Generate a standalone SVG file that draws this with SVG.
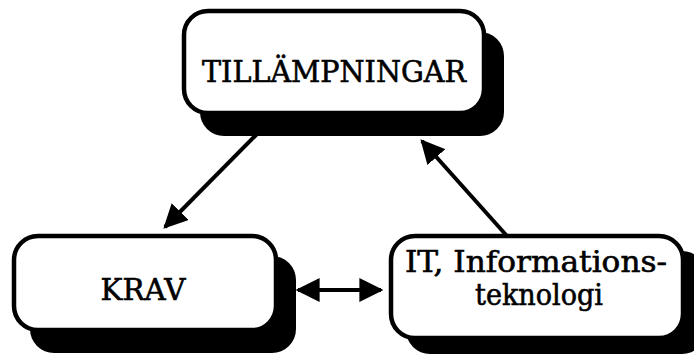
<svg xmlns="http://www.w3.org/2000/svg" width="694" height="354" viewBox="0 0 694 354">
<style>
.shadow{fill:#000}
.box{fill:#fff;stroke:#000;stroke-width:4.5}
.lbl{font-family:"DejaVu Serif","Liberation Serif",serif;font-size:29px;fill:#000;stroke:#000;stroke-width:0.6;text-anchor:middle}
.conn{stroke:#000;stroke-width:4;fill:none}
</style>
<defs>
<marker id="ah" viewBox="0 0 10 10" refX="9" refY="5" markerWidth="6" markerHeight="6" markerUnits="strokeWidth" orient="auto-start-reverse">
<path d="M0,0 L10,5 L0,10 z" fill="#000"/>
</marker>
</defs>
<rect width="694" height="354" fill="#fff"/>
<g id="connectors">
<line class="conn" x1="257" y1="134" x2="165" y2="227" marker-end="url(#ah)"/>
<line class="conn" x1="507" y1="236" x2="422" y2="141" marker-end="url(#ah)"/>
<line class="conn" x1="298" y1="290" x2="381" y2="290" marker-start="url(#ah)" marker-end="url(#ah)"/>
</g>
<g id="tillampningar">
<rect class="shadow" x="200" y="32" width="304" height="104" rx="24"/>
<rect class="box" x="184" y="11" width="300" height="102" rx="24"/>
<text class="lbl" x="334" y="82" textLength="264" lengthAdjust="spacingAndGlyphs">TILLÄMPNINGAR</text>
</g>
<g id="krav">
<rect class="shadow" x="30" y="256" width="266" height="97" rx="24"/>
<rect class="box" x="14" y="236" width="262" height="94" rx="24"/>
<text class="lbl" x="143" y="300" textLength="85" lengthAdjust="spacingAndGlyphs">KRAV</text>
</g>
<g id="it">
<rect class="shadow" x="406" y="251" width="300" height="103" rx="24"/>
<rect class="box" x="391" y="236" width="292" height="102" rx="24"/>
<text class="lbl" x="536" y="272" textLength="262" lengthAdjust="spacingAndGlyphs">IT, Informations-</text>
<text class="lbl" x="539" y="305" textLength="128" lengthAdjust="spacingAndGlyphs">teknologi</text>
</g>
</svg>
